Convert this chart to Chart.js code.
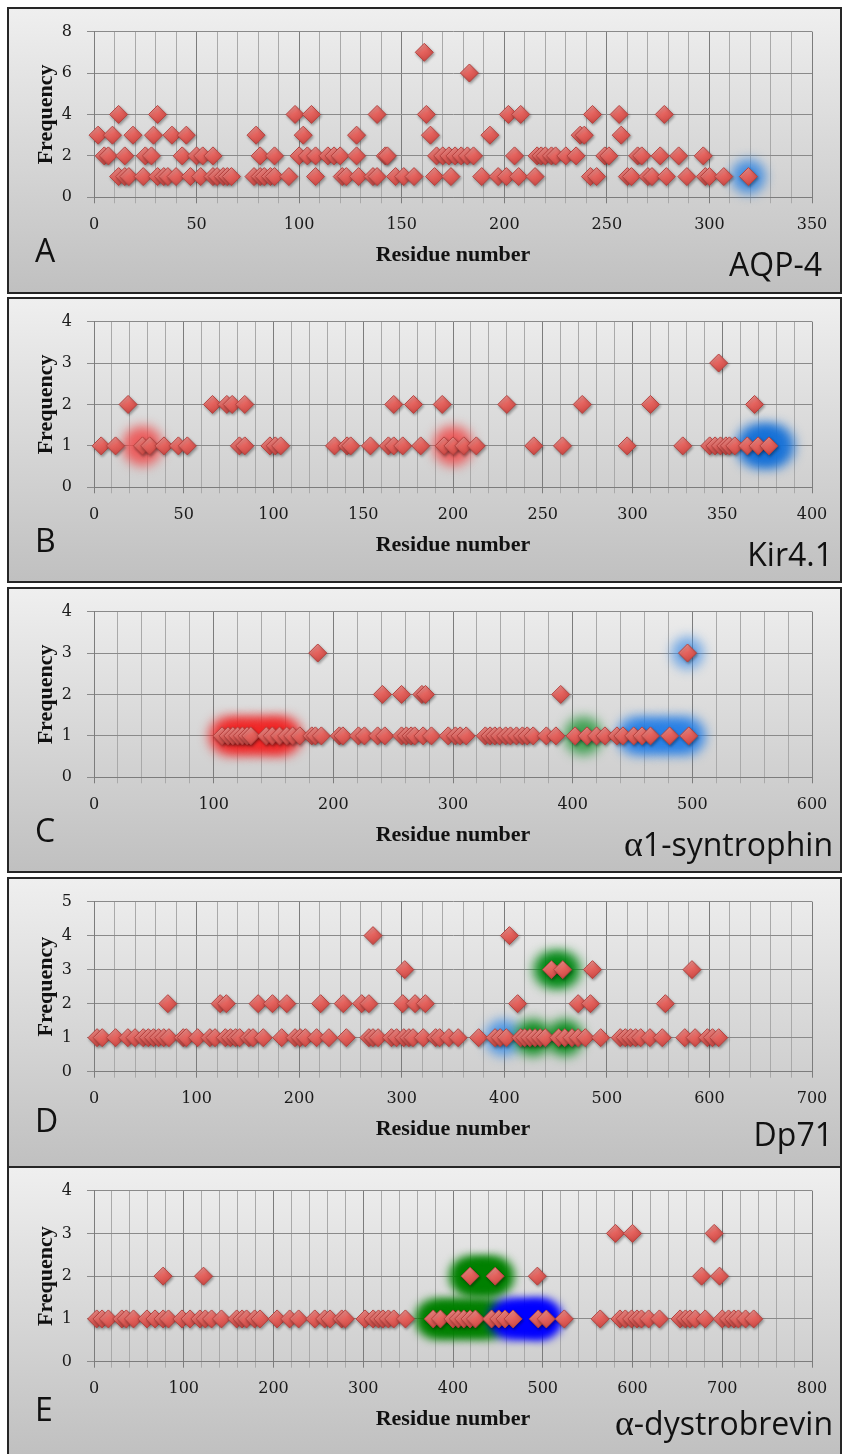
<!DOCTYPE html>
<html><head><meta charset="utf-8">
<script src="https://cdn.jsdelivr.net/npm/chart.js@4/dist/chart.umd.min.js"></script>
<style>
html,body{margin:0;padding:0;background:#fff;width:842px;height:1454px;overflow:hidden;position:relative}
.box{position:absolute;left:7px;width:835px;box-sizing:border-box;border:2px solid #262626;background:linear-gradient(#efefef,#c0c0c0)}
canvas{position:absolute;left:0}
</style></head><body>
<script>
// ---------- DATA (residue numbers at each frequency level) ----------
const aqp4F1 = [12,15,17,24,31,34,36,40,47,52,58,60,63,65,67,78,81,83,86,88,95,108,121,123,129,136,138,147,151,156,166,174,189,197,201,207,215,242,245,260,262,270,272,279,289,298,300,307,319];
const aqp4F2 = [5,7,15,25,28,43,50,53,58,81,88,100,104,108,114,117,120,128,142,143,167,170,173,176,179,182,185,205,216,218,220,223,225,230,235,249,251,265,267,276,285,297];
const aqp4F3 = [2,9,19,29,38,45,79,102,128,164,193,237,239,257];
const aqp4F4 = [12,31,98,106,138,162,202,208,243,256,278];
const aqp4F6 = [183];
const aqp4F7 = [161];

const kir41F1 = [4,12,27,31,39,47,52,81,84,98,101,104,134,141,143,154,164,167,172,182,195,200,206,213,245,261,297,328,343,346,349,352,354,357,364,370,376];
const kir41F2 = [19,66,74,77,84,167,178,194,230,272,310,368];
const kir41F3 = [348];

const syntrophinF1 = [107,112,116,120,124,128,131,144,149,155,161,166,172,182,185,190,205,208,221,226,237,243,257,261,265,268,275,282,296,302,306,311,327,331,335,339,344,348,353,358,362,367,378,386,402,412,420,427,437,442,451,458,465,481,497];
const syntrophinF2 = [241,257,274,277,390];
const syntrophinF3 = [187,496];

const dp71F1 = [3,8,21,33,40,48,53,58,63,68,73,87,90,101,113,118,128,133,138,142,151,155,165,183,196,201,206,217,229,246,268,272,277,290,295,302,307,311,321,333,337,346,355,375,391,396,402,416,420,425,430,435,440,453,459,466,472,479,494,513,518,523,528,533,542,554,576,586,598,603,609];
const dp71F2 = [72,123,129,160,174,188,221,243,261,268,301,313,323,413,472,484,557];
const dp71F3 = [303,446,457,486,583];
const dp71F4 = [272,405];

const dystrobrevinF1 = [3,9,16,31,36,44,59,68,77,83,98,107,118,124,131,142,159,165,170,179,185,204,218,228,246,257,263,276,280,302,311,317,322,328,334,347,378,386,400,406,412,419,425,443,451,458,467,495,504,524,564,586,592,599,605,610,618,630,653,659,664,670,681,700,707,713,718,726,735];
const dystrobrevinF2 = [77,122,419,447,494,677,697];
const dystrobrevinF3 = [581,600,691];

// highlighted regions [residue, frequency]
const aqp4GlowBlue = [[319,1]];
const kir41GlowRed = [[27,1],[200,1]];
const kir41GlowBlue = [[370,1],[378,1]];
const syntrophinGlowRed = [[112,1],[124,1],[136,1],[148,1],[158,1]];
const syntrophinGlowGreen = [[409,1]];
const syntrophinGlowBlue = [[453,1],[467,1],[481,1],[495,1]];
const syntrophinGlowBlueTop = [[496,3]];
const dp71GlowBlue = [[399,1]];
const dp71GlowGreen = [[428,1],[459,1],[446,3],[457,3]];
const dystrobrevinGlowGreen = [[380,1],[395,1],[410,1],[425,1],[440,1],[418,2],[432,2],[446,2]];
const dystrobrevinGlowBlue = [[462,1],[476,1],[490,1],[500,1]];

// axis tick labels
const xLabelsA = [0,50,100,150,200,250,300,350];
const xLabelsB = [0,50,100,150,200,250,300,350,400];
const xLabelsC = [0,100,200,300,400,500,600];
const xLabelsD = [0,100,200,300,400,500,600,700];
const xLabelsE = [0,100,200,300,400,500,600,700,800];

// ---------- LAYOUT ----------
const SANS = '"Open Sans"';
const panels = [
 {letter:'A', name:[{t:'AQP-4'}], nameRight:822, boxTop:7, boxH:287, plotTop:30.7, plotBottom:197.3,
  xLabels:xLabelsA, xStep:10, yMax:8, yStep:2,
  levels:[[1,aqp4F1],[2,aqp4F2],[3,aqp4F3],[4,aqp4F4],[6,aqp4F6],[7,aqp4F7]],
  glows:[{pts:aqp4GlowBlue, color:'rgba(45,130,225,0.85)', r:17, blur:6}]},
 {letter:'B', name:[{t:'Kir4.1'}], nameRight:833, boxTop:297, boxH:286, plotTop:320, plotBottom:487.3,
  xLabels:xLabelsB, xStep:10, yMax:4, yStep:1,
  levels:[[1,kir41F1],[2,kir41F2],[3,kir41F3]],
  glows:[{pts:kir41GlowRed, color:'rgba(238,72,72,0.85)', r:20, blur:6},
         {pts:kir41GlowBlue, color:'rgba(20,112,215,0.95)', r:22, blur:6}]},
 {letter:'C', name:[{t:'\u03b1', serif:true},{t:'1-syntrophin'}], nameRight:833, boxTop:587, boxH:286, plotTop:610, plotBottom:777.3,
  xLabels:xLabelsC, xStep:20, yMax:4, yStep:1,
  levels:[[1,syntrophinF1],[2,syntrophinF2],[3,syntrophinF3]],
  glows:[{pts:syntrophinGlowRed, color:'rgba(240,35,35,0.9)', r:19, blur:6},
         {pts:syntrophinGlowGreen, color:'rgba(40,150,60,0.85)', r:19, blur:6},
         {pts:syntrophinGlowBlue, color:'rgba(35,125,230,0.9)', r:19, blur:6},
         {pts:syntrophinGlowBlueTop, color:'rgba(60,140,230,0.7)', r:16, blur:6}]},
 {letter:'D', name:[{t:'Dp71'}], nameRight:833, boxTop:877, boxH:291, plotTop:900, plotBottom:1071.7,
  xLabels:xLabelsD, xStep:20, yMax:5, yStep:1,
  levels:[[1,dp71F1],[2,dp71F2],[3,dp71F3],[4,dp71F4]],
  glows:[{pts:dp71GlowBlue, color:'rgba(55,140,230,0.85)', r:18, blur:6},
         {pts:dp71GlowGreen, color:'rgba(0,135,20,0.95)', r:18, blur:6}]},
 {letter:'E', name:[{t:'\u03b1', serif:true},{t:'-dystrobrevin'}], nameRight:833, boxTop:1166, boxH:290, plotTop:1190, plotBottom:1361.7,
  xLabels:xLabelsE, xStep:20, yMax:4, yStep:1,
  levels:[[1,dystrobrevinF1],[2,dystrobrevinF2],[3,dystrobrevinF3]],
  glows:[{pts:dystrobrevinGlowGreen, color:'rgb(0,128,0)', r:20, blur:5},
         {pts:dystrobrevinGlowBlue, color:'rgb(0,0,255)', r:20, blur:5}]}
];

const fxPlugin = {
  id:'fx',
  beforeDatasetDraw(chart, args){
    const ds = chart.data.datasets[args.index]; const ctx = chart.ctx;
    ctx.save();
    if (ds.glowBlur) ctx.filter = 'blur(' + ds.glowBlur + 'px)';
    if (ds.isMarker){ ctx.shadowColor='rgba(0,0,0,0.35)'; ctx.shadowBlur=3; ctx.shadowOffsetX=1; ctx.shadowOffsetY=1.5; }
  },
  afterDatasetDraw(chart){ chart.ctx.restore(); }
};

const textPlugin = {
  id:'panelText',
  afterDraw(chart, args, o){
    const ctx = chart.ctx; ctx.save();
    ctx.fillStyle = '#111'; ctx.textBaseline = 'alphabetic'; ctx.textAlign = 'left';
    ctx.font = '32px ' + SANS;
    ctx.fillText(o.letter, 35, o.letterBase);
    let total = 0;
    o.name.forEach(s => { s.font = s.serif ? '36px "Liberation Serif"' : '32px ' + SANS; ctx.font = s.font; s.w = ctx.measureText(s.t).width; total += s.w; });
    let x = o.right - total;
    o.name.forEach(s => { ctx.font = s.font; ctx.fillText(s.t, x, o.nameBase); x += s.w; });
    ctx.restore();
  }
};

// shaded diamond fill (light upper-left to darker lower-right)
function diamondFill(c){
  const base = '#e3625f';
  if (c.type !== 'data' || !c.raw) return base;
  const ch = c.chart, xs = ch.scales.x, ys = ch.scales.y;
  if (!xs || !ys) return base;
  const px = xs.getPixelForValue(c.raw.x), py = ys.getPixelForValue(c.raw.y);
  if (!isFinite(px) || !isFinite(py)) return base;
  const g = ch.ctx.createLinearGradient(px - 5, py - 9, px + 5, py + 9);
  g.addColorStop(0, '#f4a19d');
  g.addColorStop(0.45, '#e5645f');
  g.addColorStop(1, '#c9443f');
  return g;
}

function build(p){
  const box = document.createElement('div'); box.className = 'box';
  box.style.top = p.boxTop + 'px'; box.style.height = p.boxH + 'px';
  document.body.appendChild(box);
  const h = Math.min(p.boxH, 1454 - p.boxTop);
  const cv = document.createElement('canvas');
  cv.width = 842; cv.height = h; cv.style.top = p.boxTop + 'px';
  cv.style.width = '842px'; cv.style.height = h + 'px';
  document.body.appendChild(cv);

  const ptl = p.plotTop - p.boxTop, pbl = p.plotBottom - p.boxTop;
  const xAxisH = h - pbl;
  const titleMid = pbl + 65 - 7.4;
  const titlePadBottom = h - titleMid - 13.2;
  const xMax = p.xLabels[p.xLabels.length - 1];

  const datasets = [];
  const n = p.glows.length;
  p.glows.forEach((g, i) => datasets.push({
    data: g.pts.map(([x, y]) => ({x, y})), pointStyle:'circle', pointRadius:g.r, pointHoverRadius:g.r,
    backgroundColor:g.color, borderWidth:0, order: 1 + (n - i), glowBlur:g.blur, clip:false
  }));
  const pts = [];
  p.levels.forEach(([y, xs]) => xs.forEach(x => pts.push({x, y})));
  datasets.push({data:pts, pointStyle:'rectRot', pointRadius:9, pointHoverRadius:9,
    backgroundColor:diamondFill, borderColor:'#b5423f', borderWidth:1, order:0, isMarker:true, clip:false});

  const tickFont = {family:'"DejaVu Serif"', size:16};
  const titleFont = {family:'"Liberation Serif"', size:22, weight:'bold'};

  new Chart(cv, {
    type:'scatter',
    data:{datasets},
    plugins:[fxPlugin, textPlugin],
    options:{
      responsive:false, animation:false, devicePixelRatio:1,
      events:[],
      layout:{padding:{left:0, right:842 - 812, top:ptl, bottom:0}},
      plugins:{legend:{display:false}, tooltip:{enabled:false},
        panelText:{letter:p.letter, name:p.name, right:p.nameRight, letterBase:255, nameBase:268.5}},
      scales:{
        x:{type:'linear', position:'bottom', min:0, max:xMax,
          ticks:{stepSize:p.xStep, autoSkip:false, maxRotation:0, minRotation:0, color:'#1a1a1a', font:tickFont, padding:11.5,
            callback:v => p.xLabels.includes(v) ? String(v) : ''},
          grid:{color:c => (c.tick && p.xLabels.includes(c.tick.value)) ? '#7c7c7c' : '#a9a9a9', lineWidth:1, tickLength:6},
          border:{display:true, color:'#7c7c7c'},
          title:{display:true, text:'Residue number', color:'#111', font:titleFont, padding:{top:0, bottom:titlePadBottom}},
          afterFit:s => { s.height = xAxisH; }
        },
        y:{type:'linear', position:'left', min:0, max:p.yMax,
          ticks:{stepSize:p.yStep, color:'#1a1a1a', font:tickFont, padding:15},
          grid:{color:'#8a8a8a', lineWidth:1, tickLength:7},
          border:{display:true, color:'#7c7c7c'},
          title:{display:true, text:'Frequency', color:'#111', font:titleFont, padding:{top:33, bottom:0}},
          afterFit:s => { s.width = 94; }
        }
      }
    }
  });
}

function go(){ panels.forEach(build); }
if (document.fonts && document.fonts.load) {
  Promise.all([document.fonts.load('32px "Open Sans"'), document.fonts.load('16px "DejaVu Serif"'), document.fonts.load('bold 22px "Liberation Serif"'), document.fonts.load('36px "Liberation Serif"')]).then(go, go);
} else go();
</script>
</body></html>
